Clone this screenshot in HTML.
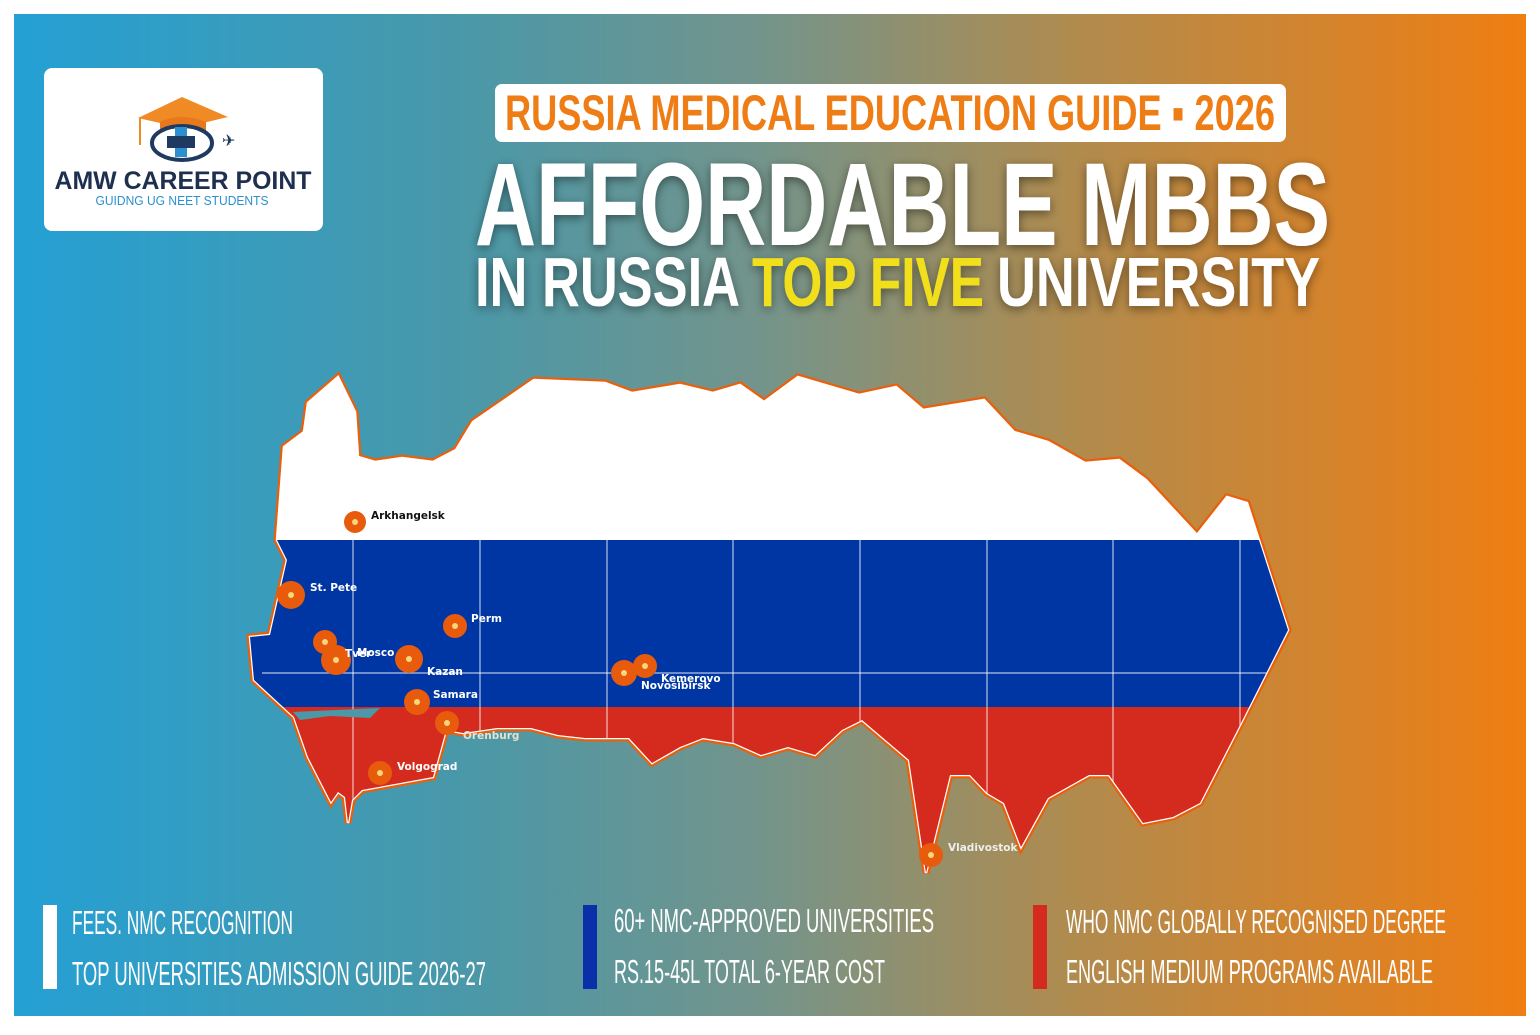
<!DOCTYPE html>
<html><head><meta charset="utf-8"><style>
html,body{margin:0;padding:0;background:#fff}
body{width:1540px;height:1030px;overflow:hidden}
</style></head><body>
<svg width="1540" height="1030" viewBox="0 0 1540 1030" xmlns="http://www.w3.org/2000/svg">
<defs>
<linearGradient id="bg" x1="0" y1="0" x2="1" y2="0">
<stop offset="0" stop-color="#24a0d4"/>
<stop offset="0.3" stop-color="#4a98a8"/>
<stop offset="0.5" stop-color="#75948a"/>
<stop offset="0.7" stop-color="#b08b4e"/>
<stop offset="1" stop-color="#f07e12"/>
</linearGradient>
<clipPath id="ru"><path id="rup" d="M284,447 L304,432 L308,403 L338,377 L355,412 L358,457 L375,462 L402,458 L433,462 L456,450 L473,422 L534,380 L605,383 L632,393 L680,385 L713,393 L740,385 L764,402 L798,377 L859,395 L896,387 L923,410 L984,400 L1014,432 L1048,442 L1085,463 L1119,460 L1146,480 L1197,535 L1227,497 L1247,503 L1288,630 L1241,723 L1200,803 L1173,817 L1143,823 L1109,775 L1089,775 L1048,798 L1021,847 L1004,803 L987,793 L970,775 L950,775 L926,873 L909,760 L862,720 L842,730 L815,755 L788,747 L761,755 L734,743 L703,738 L680,747 L652,763 L629,738 L585,738 L558,735 L531,728 L497,728 L463,733 L446,730 L433,777 L362,790 L352,800 L348,823 L345,797 L338,792 L331,802 L308,757 L294,717 L254,680 L250,637 L270,635 L287,560 L277,540 Z"/></clipPath>
<filter id="sh" x="-10%" y="-30%" width="120%" height="160%"><feDropShadow dx="0" dy="3" stdDeviation="5" flood-color="#000" flood-opacity="0.45"/></filter>
</defs>
<rect x="14" y="14" width="1512" height="1002" fill="url(#bg)"/>

<!-- logo -->
<rect x="44" y="68" width="279" height="163" rx="8" fill="#fff"/>
<polygon points="138,118 182,97 228,117 182,128" fill="#f08a24"/>
<path d="M160,122 Q182,112 206,122 L206,132 Q182,124 160,132 Z" fill="#e8781c"/>
<line x1="140" y1="118" x2="140" y2="145" stroke="#f08a24" stroke-width="2"/>
<ellipse cx="182" cy="143" rx="30" ry="17" fill="none" stroke="#1f3a60" stroke-width="4"/>
<rect x="175" y="127" width="12" height="30" fill="#2c8fd0"/>
<rect x="167" y="136" width="28" height="12" fill="#1f3a60"/>
<text x="222" y="146" font-family="DejaVu Sans" font-size="16" fill="#1f3a60">✈</text>
<text x="183" y="189" text-anchor="middle" font-family="Liberation Sans, sans-serif" font-weight="bold" font-size="25" fill="#1f2f4f" textLength="257" lengthAdjust="spacingAndGlyphs">AMW CAREER POINT</text>
<text x="182" y="205" text-anchor="middle" font-family="Liberation Sans, sans-serif" font-size="12.5" fill="#2a90cf" textLength="173" lengthAdjust="spacingAndGlyphs">GUIDNG UG NEET STUDENTS</text>

<!-- title pill -->
<rect x="495" y="84" width="791" height="58" rx="7" fill="#fff"/>
<text x="890" y="130" text-anchor="middle" font-family="Liberation Sans Narrow, Liberation Sans, sans-serif" font-weight="bold" font-size="50" fill="#ee7d16" textLength="770" lengthAdjust="spacingAndGlyphs">RUSSIA MEDICAL EDUCATION GUIDE ▪ 2026</text>
<g filter="url(#sh)">
<text x="475" y="245" font-family="Liberation Sans Narrow, Liberation Sans, sans-serif" font-weight="bold" font-size="118" fill="#fff" textLength="855" lengthAdjust="spacingAndGlyphs">AFFORDABLE MBBS</text>
<text x="475" y="306" font-family="Liberation Sans Narrow, Liberation Sans, sans-serif" font-weight="bold" font-size="70" fill="#fff" textLength="265" lengthAdjust="spacingAndGlyphs">IN RUSSIA</text>
<text x="752" y="306" font-family="Liberation Sans Narrow, Liberation Sans, sans-serif" font-weight="bold" font-size="70" fill="#f2df1c" textLength="232" lengthAdjust="spacingAndGlyphs">TOP FIVE</text>
<text x="997" y="306" font-family="Liberation Sans Narrow, Liberation Sans, sans-serif" font-weight="bold" font-size="70" fill="#fff" textLength="323" lengthAdjust="spacingAndGlyphs">UNIVERSITY</text>
</g>

<!-- map -->
<use href="#rup" fill="none" stroke="#e8600c" stroke-width="7"/>
<use href="#rup" fill="none" stroke="#fff" stroke-width="2.5"/>
<g clip-path="url(#ru)">
<rect x="240" y="360" width="1060" height="180" fill="#fff"/>
<rect x="240" y="540" width="1060" height="167" fill="#0036a3"/>
<rect x="240" y="707" width="1060" height="180" fill="#d52b1f"/>
<g stroke="#fff" stroke-opacity="0.7" stroke-width="1.2">
<line x1="353" y1="540" x2="353" y2="830"/><line x1="480" y1="540" x2="480" y2="830"/>
<line x1="607" y1="540" x2="607" y2="830"/><line x1="733" y1="540" x2="733" y2="830"/>
<line x1="860" y1="540" x2="860" y2="830"/><line x1="987" y1="540" x2="987" y2="830"/>
<line x1="1113" y1="540" x2="1113" y2="830"/><line x1="1240" y1="540" x2="1240" y2="830"/>
<line x1="262" y1="673" x2="1270" y2="673"/>
</g>
</g>
<path d="M293,712 L380,708 L370,718 L330,716 L300,720 Z" fill="#4a98a8"/>
<g fill="#e85a0c">
<circle cx="355" cy="522" r="11"/><circle cx="291" cy="595" r="14"/><circle cx="455" cy="626" r="12"/>
<circle cx="325" cy="642" r="12"/><circle cx="336" cy="660" r="15"/><circle cx="409" cy="659" r="14"/>
<circle cx="624" cy="673" r="13"/><circle cx="645" cy="666" r="12"/><circle cx="417" cy="702" r="13"/>
<circle cx="447" cy="723" r="12"/><circle cx="380" cy="773" r="12"/><circle cx="931" cy="855" r="12"/>
</g>
<g fill="#f8d67a">
<circle cx="355" cy="522" r="3"/><circle cx="291" cy="595" r="3"/><circle cx="455" cy="626" r="3"/>
<circle cx="325" cy="642" r="3"/><circle cx="336" cy="660" r="3"/><circle cx="409" cy="659" r="3"/>
<circle cx="624" cy="673" r="3"/><circle cx="645" cy="666" r="3"/><circle cx="417" cy="702" r="3"/>
<circle cx="447" cy="723" r="3"/><circle cx="380" cy="773" r="3"/><circle cx="931" cy="855" r="3"/>
</g>
<g font-family="DejaVu Sans, sans-serif" font-weight="bold" font-size="10.5" fill="#fff">
<text x="371" y="519" fill="#111">Arkhangelsk</text>
<text x="310" y="591">St. Pete</text>
<text x="471" y="622">Perm</text>
<text x="345" y="657">Tver</text>
<text x="357" y="656">Mosco</text>
<text x="427" y="675">Kazan</text>
<text x="661" y="682">Kemerovo</text>
<text x="641" y="689">Novosibirsk</text>
<text x="433" y="698">Samara</text>
<text x="463" y="739" fill="#e8e0d0">Orenburg</text>
<text x="397" y="770">Volgograd</text>
<text x="948" y="851" fill="#eee">Vladivostok</text>
</g>

<!-- bottom -->
<rect x="43" y="905" width="14" height="84" fill="#fff"/>
<rect x="583" y="905" width="14" height="84" fill="#0a2fa8"/>
<rect x="1033" y="905" width="14" height="84" fill="#d52b1f"/>
<g font-family="Liberation Sans Narrow, Liberation Sans, sans-serif" font-size="33" fill="#fff">
<text x="72" y="934" textLength="221" lengthAdjust="spacingAndGlyphs">FEES. NMC RECOGNITION</text>
<text x="72" y="985" textLength="414" lengthAdjust="spacingAndGlyphs">TOP UNIVERSITIES ADMISSION GUIDE 2026-27</text>
<text x="614" y="932" textLength="320" lengthAdjust="spacingAndGlyphs">60+ NMC-APPROVED UNIVERSITIES</text>
<text x="614" y="983" textLength="271" lengthAdjust="spacingAndGlyphs">RS.15-45L TOTAL 6-YEAR COST</text>
<text x="1066" y="933" textLength="380" lengthAdjust="spacingAndGlyphs">WHO NMC GLOBALLY RECOGNISED DEGREE</text>
<text x="1066" y="983" textLength="367" lengthAdjust="spacingAndGlyphs">ENGLISH MEDIUM PROGRAMS AVAILABLE</text>
</g>
</svg>
</body></html>
